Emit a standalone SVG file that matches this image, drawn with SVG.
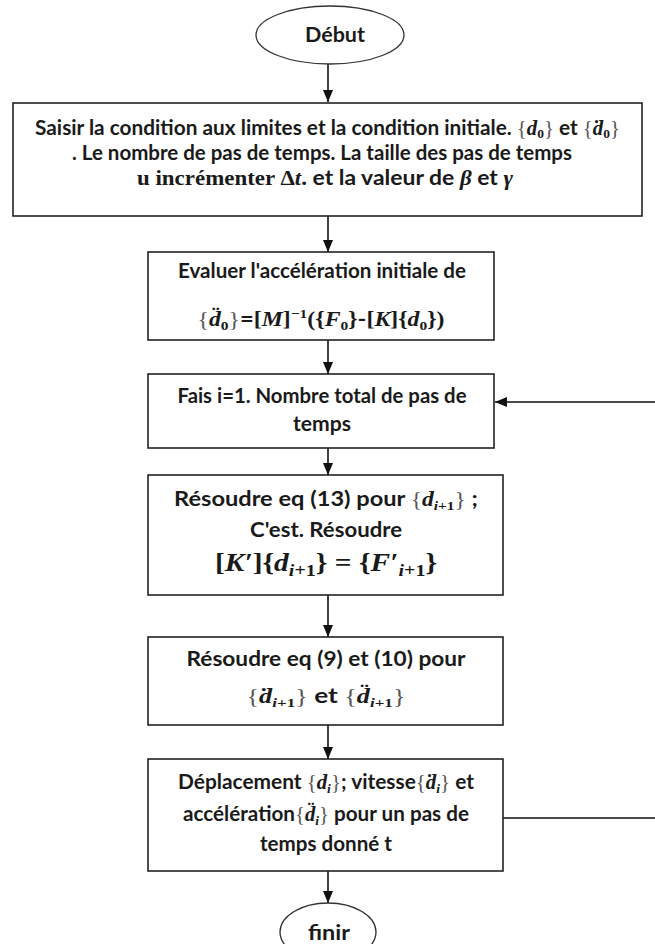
<svg xmlns="http://www.w3.org/2000/svg" width="655" height="944" viewBox="0 0 655 944">
<style>
.box{fill:#fff;stroke:#222;stroke-width:1.6}
.ell{fill:#fff;stroke:#333;stroke-width:1.3}
.t{font-family:Lato,"Liberation Sans",sans-serif;font-weight:bold;font-size:20px;fill:#1a1a1a;text-anchor:middle}
.m{font-family:"Liberation Serif","DejaVu Serif",serif;font-style:italic;font-weight:bold}
.b{font-family:"Liberation Serif","DejaVu Serif",serif;font-weight:normal;font-style:normal;fill:#555}
.r{font-family:"Liberation Serif","DejaVu Serif",serif;font-weight:bold;font-style:normal}
.s{font-size:13px}
.n{font-family:"Liberation Serif","DejaVu Serif",serif;font-weight:bold;font-style:normal;font-size:13px}
.con{fill:none;stroke:#111;stroke-width:1.6}
</style>
<defs>
<marker id="ah" markerUnits="userSpaceOnUse" markerWidth="12" markerHeight="12" refX="12" refY="6" orient="auto">
<path d="M0,1 L12,6 L0,11 Z" fill="#111"/>
</marker>
</defs>
<g id="connectors">
<line class="con" x1="328" y1="64" x2="328" y2="102" marker-end="url(#ah)"/>
<line class="con" x1="328" y1="216" x2="328" y2="252" marker-end="url(#ah)"/>
<line class="con" x1="328" y1="340" x2="328" y2="374" marker-end="url(#ah)"/>
<line class="con" x1="328" y1="448" x2="328" y2="475" marker-end="url(#ah)"/>
<line class="con" x1="328" y1="595" x2="328" y2="637" marker-end="url(#ah)"/>
<line class="con" x1="328" y1="725" x2="328" y2="759" marker-end="url(#ah)"/>
<line class="con" x1="328" y1="871" x2="328" y2="903" marker-end="url(#ah)"/>
<path class="con" d="M503,818 H658 V402 H495" marker-end="url(#ah)"/>
</g>
<g id="debut">
<ellipse class="ell" cx="330" cy="35" rx="74" ry="29"/>
<text class="t" x="335" y="42" textLength="60" lengthAdjust="spacingAndGlyphs">Début</text>
</g>
<g id="saisir">
<rect class="box" x="13" y="103" width="629" height="113"/>
<text class="t" x="327.5" y="135" textLength="585" lengthAdjust="spacingAndGlyphs">Saisir la condition aux limites et la condition initiale. <tspan class="b">{</tspan><tspan class="m">d</tspan><tspan class="n" dy="3">0</tspan><tspan class="b" dy="-3">}</tspan> et <tspan class="b">{</tspan><tspan class="m">ḋ</tspan><tspan class="n" dy="3">0</tspan><tspan class="b" dy="-3">}</tspan></text>
<text class="t" x="322" y="160" textLength="500" lengthAdjust="spacingAndGlyphs">. Le nombre de pas de temps.  La taille des pas de temps</text>
<text class="t" x="325" y="185" textLength="376" lengthAdjust="spacingAndGlyphs"><tspan class="r">u incrémenter </tspan><tspan class="r">Δ</tspan><tspan class="m">t</tspan><tspan class="r">.</tspan>  et la valeur de <tspan class="m">β</tspan> et <tspan class="m">γ</tspan></text>
</g>
<g id="evaluer">
<rect class="box" x="148" y="252" width="346" height="88"/>
<text class="t" x="322" y="278" textLength="288" lengthAdjust="spacingAndGlyphs">Evaluer l'accélération initiale de</text>
<text class="t" x="321" y="326" textLength="247" lengthAdjust="spacingAndGlyphs"><tspan class="b">{</tspan><tspan class="m">d̈</tspan><tspan class="n" dy="4">0</tspan><tspan class="b" dy="-4">}</tspan>=<tspan class="r">[</tspan><tspan class="m">M</tspan><tspan class="r">]</tspan><tspan class="n" dy="-8">−1</tspan><tspan class="r" dy="8">({</tspan><tspan class="m">F</tspan><tspan class="n" dy="4">0</tspan><tspan class="r" dy="-4">}</tspan>-<tspan class="r">[</tspan><tspan class="m">K</tspan><tspan class="r">]{</tspan><tspan class="m">d</tspan><tspan class="n" dy="4">0</tspan><tspan class="r" dy="-4">})</tspan></text>
</g>
<g id="fais">
<rect class="box" x="148" y="374" width="346" height="74"/>
<text class="t" x="322" y="403" textLength="289" lengthAdjust="spacingAndGlyphs">Fais i=1. Nombre total de pas de</text>
<text class="t" x="322" y="431" textLength="58" lengthAdjust="spacingAndGlyphs">temps</text>
</g>
<g id="resoudre13">
<rect class="box" x="148" y="475" width="355" height="120"/>
<text class="t" x="326" y="506" textLength="304" lengthAdjust="spacingAndGlyphs">Résoudre eq (13) pour <tspan class="b">{</tspan><tspan class="m">d</tspan><tspan class="m s" dy="4">i</tspan><tspan class="n">+1</tspan><tspan class="b" dy="-4">}</tspan> ;</text>
<text class="t" x="326" y="537" textLength="152" lengthAdjust="spacingAndGlyphs">C'est. Résoudre</text>
<text class="t" x="326" y="571" style="font-size:25px" textLength="222" lengthAdjust="spacingAndGlyphs"><tspan class="r">[</tspan><tspan class="m">K′</tspan><tspan class="r">]{</tspan><tspan class="m">d</tspan><tspan class="m" style="font-size:17px" dy="5">i</tspan><tspan class="r" style="font-size:17px">+1</tspan><tspan class="r" dy="-5">} = {</tspan><tspan class="m">F′</tspan><tspan class="m" style="font-size:17px" dy="5">i</tspan><tspan class="r" style="font-size:17px">+1</tspan><tspan class="r" dy="-5">}</tspan></text>
</g>
<g id="resoudre910">
<rect class="box" x="148" y="637" width="355" height="88"/>
<text class="t" x="326" y="666" textLength="279" lengthAdjust="spacingAndGlyphs">Résoudre eq (9) et (10) pour</text>
<text class="t" x="326" y="703" textLength="159" lengthAdjust="spacingAndGlyphs"><tspan class="b">{</tspan><tspan class="m">ḋ</tspan><tspan class="m s" dy="4">i</tspan><tspan class="n">+1</tspan><tspan class="b" dy="-4">}</tspan> et <tspan class="b">{</tspan><tspan class="m">d̈</tspan><tspan class="m s" dy="4">i</tspan><tspan class="n">+1</tspan><tspan class="b" dy="-4">}</tspan></text>
</g>
<g id="deplacement">
<rect class="box" x="148" y="759" width="355" height="112"/>
<text class="t" x="326" y="789" textLength="296" lengthAdjust="spacingAndGlyphs">Déplacement <tspan class="b">{</tspan><tspan class="m">d</tspan><tspan class="m s" dy="4">i</tspan><tspan class="b" dy="-4">}</tspan>; vitesse<tspan class="b">{</tspan><tspan class="m">ḋ</tspan><tspan class="m s" dy="4">i</tspan><tspan class="b" dy="-4">}</tspan> et</text>
<text class="t" x="326" y="821" textLength="286" lengthAdjust="spacingAndGlyphs">accélération<tspan class="b">{</tspan><tspan class="m">d̈</tspan><tspan class="m s" dy="4">i</tspan><tspan class="b" dy="-4">}</tspan> pour un pas de</text>
<text class="t" x="326" y="851" textLength="132" lengthAdjust="spacingAndGlyphs">temps donné t</text>
</g>
<g id="finir">
<ellipse class="ell" cx="328" cy="932" rx="48" ry="29"/>
<text class="t" x="329" y="940" textLength="42" lengthAdjust="spacingAndGlyphs">finir</text>
</g>
</svg>
